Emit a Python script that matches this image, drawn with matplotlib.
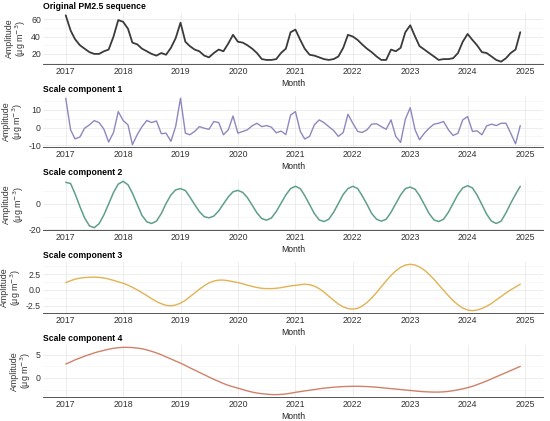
import numpy as np
import pandas as pd
import matplotlib
matplotlib.use("Agg")
import matplotlib.pyplot as plt
from matplotlib.ticker import MultipleLocator, FormatStrFormatter
import matplotlib.dates as mdates

plt.rcParams['font.family'] = ['Liberation Sans', 'DejaVu Sans']
plt.rcParams['axes.unicode_minus'] = False

months = pd.date_range("2017-01-01", periods=96, freq="MS")

pm25 = [64.5, 47, 37, 30, 26, 22, 20, 20, 23, 25, 40, 59,
        57, 49, 33, 31, 26, 23, 20, 18, 21, 19, 27, 38,
        56, 34, 29, 25, 23, 18, 16, 21, 25, 23, 32, 42,
        34, 33, 30, 26, 21, 14, 13, 13, 14, 21, 26, 45,
        48, 36, 26, 19, 18, 16, 14, 13, 14, 17, 27, 42,
        40, 36, 31, 26, 22, 17, 13, 13, 25, 23, 27, 45,
        53, 40, 29, 25, 21, 17, 13, 14, 14, 15, 21, 34,
        43, 36, 30, 22, 21, 17, 13, 11, 15, 21, 25, 45]

comp1 = [16.5, -1.3, -6.4, -5.4, -0.4, 1.5, 3.9, 2.8, -1.0, -8.2, -2.8, 9.0,
         4.0, 1.5, -9.7, -4.0, 0.5, 4.0, 2.8, 3.7, -3.5, -3.2, -7.8, 0.5,
         16.5, -3.2, -4.1, -2.2, 0.5, -0.4, -1.0, 3.4, 2.8, -4.1, -1.3, 6.5,
         -3.2, -2.2, -1.3, 1.0, 2.4, 0.5, 1.1, 0.2, -3.0, -2.0, -4.0, 7.0,
         9.0, -2.2, -6.5, -5.0, 1.5, 4.3, 2.8, 0.5, -1.7, -5.0, -2.8, 7.5,
         2.4, -2.2, -2.8, -1.3, 1.9, 2.1, 0.5, -1.0, 4.3, -5.0, -8.4, 4.7,
         11.2, -1.3, -6.9, -3.2, -0.4, 1.9, 2.4, 3.4, -1.3, -4.5, -3.2, 4.3,
         6.2, -2.2, -1.9, -4.1, 0.9, 1.9, 1.1, 2.4, 2.4, -3.2, -9.2, 1.1]

comp2 = [16.9, 16.0, 8.0, -2.0, -11.0, -17.2, -18.6, -15.5, -8.5, 0.0, 9.0, 15.5,
         17.7, 15.0, 8.5, -0.5, -9.0, -14.0, -15.3, -13.5, -7.5, 0.3, 7.0, 11.0,
         12.0, 10.5, 5.5, -0.5, -6.0, -10.0, -10.9, -9.5, -5.5, 0.0, 5.5, 9.5,
         10.6, 9.0, 5.0, -1.0, -7.0, -11.5, -12.7, -11.0, -6.0, 0.5, 7.0, 12.0,
         13.8, 12.0, 6.5, -0.5, -7.5, -12.5, -13.8, -12.0, -6.5, 0.3, 7.5, 12.0,
         13.8, 12.0, 6.5, -0.3, -7.5, -12.0, -13.5, -12.0, -6.5, 0.2, 7.0, 12.0,
         13.2, 11.5, 6.5, -0.5, -7.5, -12.5, -13.8, -12.0, -6.5, 0.5, 7.5, 12.5,
         14.3, 12.5, 7.0, -0.5, -8.0, -13.5, -15.3, -13.5, -7.0, 0.5, 7.5, 13.8]

comp3 = [1.15, 1.45, 1.7, 1.85, 1.95, 2.0, 2.02, 1.98, 1.88, 1.72, 1.5, 1.28,
         1.05, 0.75, 0.4, 0.0, -0.45, -0.9, -1.4, -1.85, -2.2, -2.45, -2.53, -2.4,
         -2.1, -1.65, -1.1, -0.5, 0.1, 0.65, 1.1, 1.4, 1.55, 1.55, 1.45, 1.3,
         1.15, 0.95, 0.75, 0.55, 0.38, 0.25, 0.2, 0.2, 0.25, 0.35, 0.5, 0.62,
         0.72, 0.82, 0.9, 0.82, 0.6, 0.2, -0.35, -1.0, -1.65, -2.25, -2.7, -2.97,
         -3.05, -2.93, -2.57, -2.01, -1.28, -0.42, 0.5, 1.42, 2.28, 3.01, 3.57, 3.93,
         4.05, 3.94, 3.63, 3.13, 2.46, 1.68, 0.82, -0.07, -0.93, -1.71, -2.38, -2.88,
         -3.19, -3.3, -3.2, -2.95, -2.6, -2.15, -1.6, -1.05, -0.5, 0.0, 0.45, 0.9]

comp4 = [3.0, 3.45, 3.9, 4.3, 4.7, 5.05, 5.4, 5.7, 5.95, 6.2, 6.4, 6.52,
         6.6, 6.6, 6.55, 6.45, 6.3, 6.05, 5.75, 5.4, 5.0, 4.55, 4.1, 3.65,
         3.2, 2.7, 2.2, 1.7, 1.2, 0.7, 0.2, -0.3, -0.75, -1.2, -1.6, -1.9,
         -2.2, -2.5, -2.8, -3.05, -3.25, -3.4, -3.5, -3.58, -3.6, -3.55, -3.45, -3.3,
         -3.1, -2.95, -2.8, -2.65, -2.5, -2.35, -2.2, -2.1, -2.0, -1.92, -1.86, -1.82,
         -1.8, -1.8, -1.82, -1.86, -1.92, -2.0, -2.1, -2.2, -2.3, -2.4, -2.5, -2.6,
         -2.7, -2.8, -2.9, -2.97, -3.02, -3.05, -3.05, -3.0, -2.9, -2.75, -2.55, -2.35,
         -2.1, -1.8, -1.45, -1.05, -0.65, -0.2, 0.25, 0.7, 1.15, 1.6, 2.05, 2.5]

titles = ["Original PM2.5 sequence", "Scale component 1", "Scale component 2",
          "Scale component 3", "Scale component 4"]
series = [pm25, comp1, comp2, comp3, comp4]
colors = ["#3b3b3b", "#8d88bf", "#5f9f8c", "#e2b253", "#d08169"]
steps = [20, 10, 20, 2.5, 5]
fmts = ["%d", "%d", "%d", "%.1f", "%d"]
widths = [1.3, 1.0, 1.1, 1.0, 1.0]

W, H = 550, 421
fig = plt.figure(figsize=(W / 100, H / 100), dpi=100)
panels = [(13, 64), (96, 147), (179, 230), (262, 313), (345, 397)]
fs = 6.3
year_ticks = pd.date_range("2017-01-01", "2025-01-01", freq="YS")

for (top, bot), ttl, y, c, st, fm, lw in zip(panels, titles, series, colors, steps, fmts, widths):
    ax = fig.add_axes([43 / W, 1 - bot / H, 500 / W, (bot - top) / H])
    ax.plot(months, y, color=c, lw=lw, solid_capstyle="round")
    ax.margins(x=0.05, y=0.05)
    ax.set_xticks(year_ticks)
    ax.xaxis.set_major_formatter(mdates.DateFormatter("%Y"))
    ax.yaxis.set_major_locator(MultipleLocator(st))
    ax.yaxis.set_minor_locator(MultipleLocator(st / 2))
    ax.yaxis.set_major_formatter(FormatStrFormatter(fm))
    ax.grid(which="major", color="#e6e6e6", lw=0.5)
    ax.grid(which="minor", axis="y", color="#f2f2f2", lw=0.4)
    ax.set_axisbelow(True)
    for s in ["top", "right", "left"]:
        ax.spines[s].set_visible(False)
    ax.spines["bottom"].set_color("#555555")
    ax.spines["bottom"].set_linewidth(0.7)
    ax.tick_params(which="both", length=0, labelsize=fs, colors="#333333")
    ax.tick_params(axis="y", pad=1.5)
    ax.tick_params(axis="x", pad=2.5)
    ax.set_title(ttl, loc="left", fontsize=6.2, fontweight="bold", pad=3)
    ax.set_xlabel("Month", fontsize=6.2, labelpad=1.5, color="#222222")
    ax.set_ylabel("Amplitude\n(μg m$^{-3}$)", fontsize=6.4, color="#333333",
                  linespacing=1.0, labelpad=2)

fig.savefig("out.png", dpi=100)
